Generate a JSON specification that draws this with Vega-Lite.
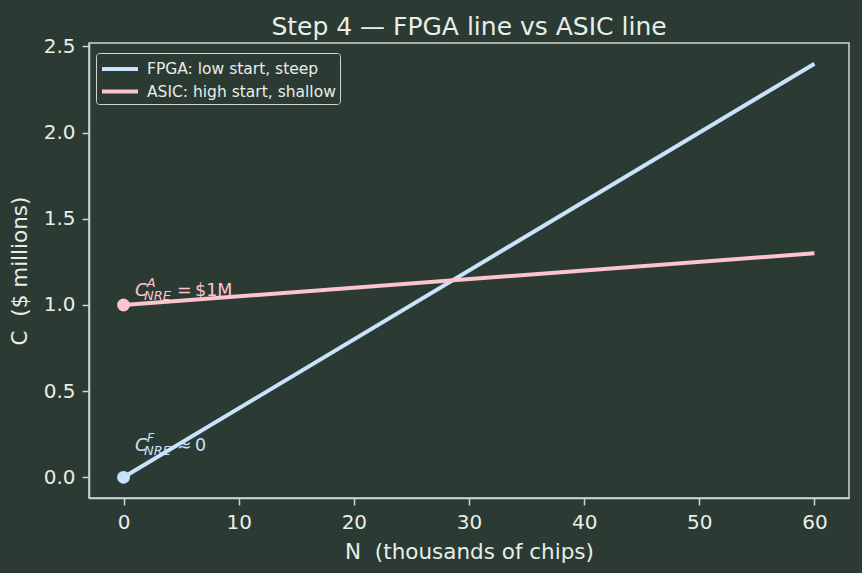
{
  "$schema": "https://vega.github.io/schema/vega-lite/v6.json",
  "width": 760,
  "height": 455,
  "autosize": {"type": "none"},
  "padding": {"left": 89, "top": 43, "right": 13, "bottom": 75},
  "background": "#2b3a33",
  "title": {
    "text": "Step 4 — FPGA line vs ASIC line",
    "font": "DejaVu Sans",
    "fontSize": 25,
    "fontWeight": "normal",
    "color": "#e8eee8",
    "anchor": "middle",
    "offset": -4
  },
  "datasets": {
    "lines": [
      {"N": 0, "C": 0.0, "series": "FPGA: low start, steep"},
      {"N": 60, "C": 2.4, "series": "FPGA: low start, steep"},
      {"N": 0, "C": 1.0, "series": "ASIC: high start, shallow"},
      {"N": 60, "C": 1.3, "series": "ASIC: high start, shallow"}
    ],
    "notes": [
      {"N": 1, "C": 0.15, "series": "FPGA: low start, steep", "sup": "F", "sub": "NRE", "op": "≈", "val": "0"},
      {"N": 1, "C": 1.05, "series": "ASIC: high start, shallow", "sup": "A", "sub": "NRE", "op": "=", "val": "$1M"}
    ]
  },
  "encoding": {
    "x": {
      "field": "N",
      "type": "quantitative",
      "scale": {"domain": [-3, 63], "nice": false, "zero": false},
      "axis": {
        "title": "N \u00a0(thousands of chips)",
        "values": [0, 10, 20, 30, 40, 50, 60],
        "titlePadding": 9
      }
    },
    "y": {
      "field": "C",
      "type": "quantitative",
      "scale": {"domain": [-0.12, 2.52], "nice": false, "zero": false},
      "axis": {
        "title": "C \u00a0($ millions)",
        "values": [0, 0.5, 1, 1.5, 2, 2.5],
        "format": ".1f",
        "titlePadding": 12
      }
    },
    "color": {
      "field": "series",
      "type": "nominal",
      "scale": {
        "domain": ["FPGA: low start, steep", "ASIC: high start, shallow"],
        "range": ["#c8e3fb", "#fbc4cf"]
      }
    }
  },
  "layer": [
    {
      "data": {"name": "lines"},
      "mark": {"type": "line", "strokeWidth": 4},
      "encoding": {
        "color": {
          "field": "series",
          "type": "nominal",
          "legend": {
            "title": null,
            "orient": "none",
            "legendX": 7,
            "legendY": 10,
            "symbolType": "M-1,0H2.6",
            "symbolSize": 400,
            "symbolStrokeWidth": 4,
            "labelFontSize": 15.5,
            "labelFont": "DejaVu Sans",
            "labelColor": "#e8eee8",
            "labelOffset": 23,
            "labelLimit": 0,
            "rowPadding": 1.5,
            "padding": 4,
            "strokeColor": "#cfd6cf",
            "fillColor": "#2b3a33",
            "cornerRadius": 3
          }
        }
      }
    },
    {
      "data": {"name": "lines"},
      "transform": [{"filter": "datum.N === 0"}],
      "mark": {"type": "circle", "size": 165, "opacity": 1},
      "encoding": {"color": {"field": "series", "type": "nominal", "legend": null}}
    },
    {
      "data": {"name": "notes"},
      "mark": {"type": "text", "font": "DejaVu Sans", "fontStyle": "italic", "fontSize": 18, "align": "left", "baseline": "alphabetic"},
      "encoding": {"text": {"value": "C"}, "color": {"field": "series", "type": "nominal", "legend": null}}
    },
    {
      "data": {"name": "notes"},
      "mark": {"type": "text", "font": "DejaVu Sans", "fontStyle": "italic", "fontSize": 12.5, "align": "left", "baseline": "alphabetic", "dx": 12, "dy": -9},
      "encoding": {"text": {"field": "sup"}, "color": {"field": "series", "type": "nominal", "legend": null}}
    },
    {
      "data": {"name": "notes"},
      "mark": {"type": "text", "font": "DejaVu Sans", "fontStyle": "italic", "fontSize": 13, "align": "left", "baseline": "alphabetic", "dx": 9, "dy": 4},
      "encoding": {"text": {"field": "sub"}, "color": {"field": "series", "type": "nominal", "legend": null}}
    },
    {
      "data": {"name": "notes"},
      "mark": {"type": "text", "font": "DejaVu Sans", "fontSize": 17.5, "align": "left", "baseline": "alphabetic", "dx": 42},
      "encoding": {"text": {"field": "op"}, "color": {"field": "series", "type": "nominal", "legend": null}}
    },
    {
      "data": {"name": "notes"},
      "mark": {"type": "text", "font": "DejaVu Sans", "fontSize": 17.5, "align": "left", "baseline": "alphabetic", "dx": 60},
      "encoding": {"text": {"field": "val"}, "color": {"field": "series", "type": "nominal", "legend": null}}
    }
  ],
  "config": {
    "view": {"stroke": "#cfd6cf", "strokeWidth": 1.5},
    "axis": {
      "grid": false,
      "domainColor": "#cfd6cf",
      "domainWidth": 1.5,
      "tickColor": "#cfd6cf",
      "tickWidth": 1.5,
      "tickSize": 7,
      "labelFont": "DejaVu Sans",
      "labelFontSize": 20,
      "labelColor": "#e8eee8",
      "labelPadding": 7,
      "titleFont": "DejaVu Sans",
      "titleFontSize": 21.5,
      "titleFontWeight": "normal",
      "titleColor": "#e8eee8"
    }
  }
}
